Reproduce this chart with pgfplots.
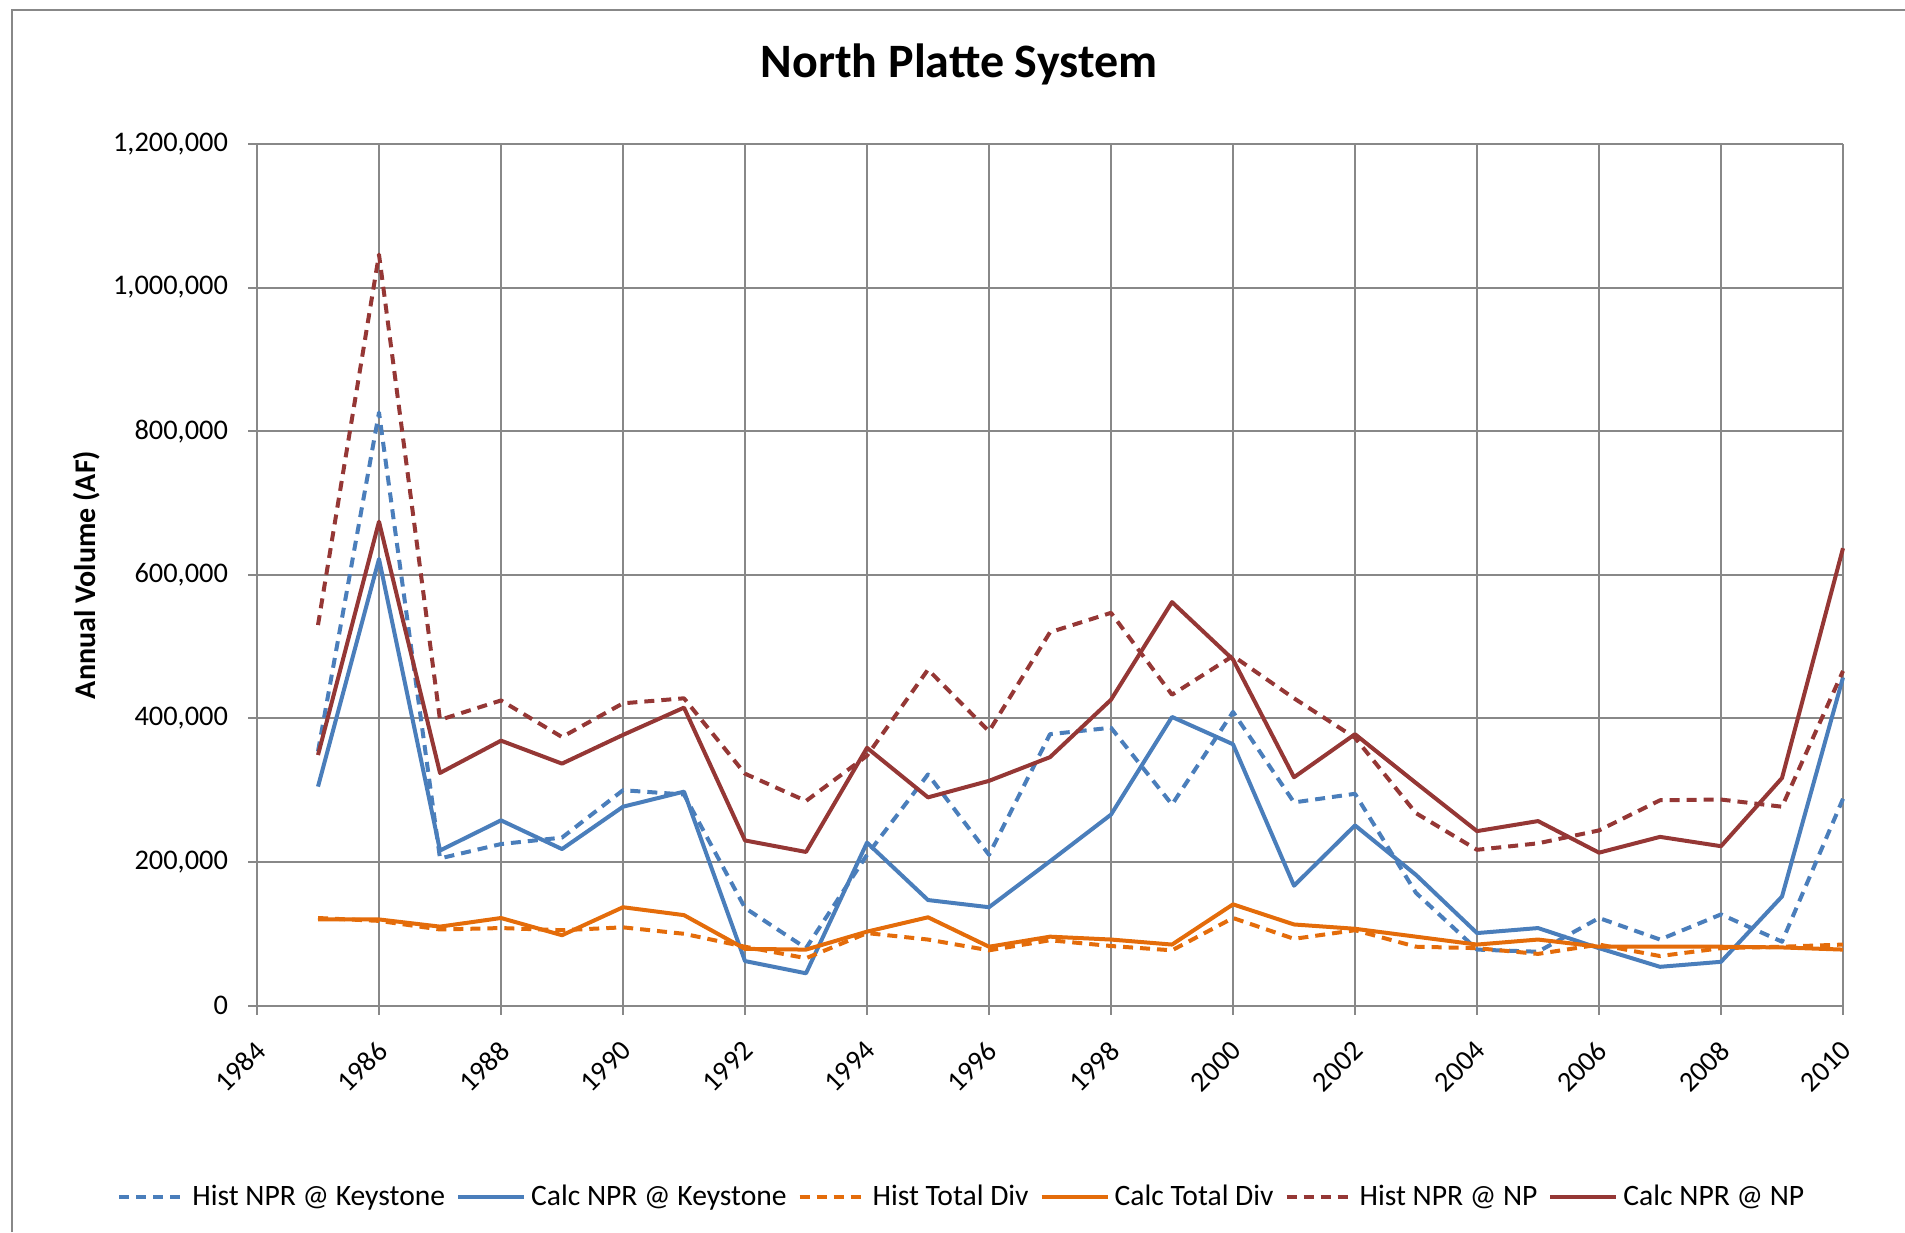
\documentclass[border=0pt]{standalone}
\usepackage{pgfplots}
\pgfplotsset{compat=1.18}
\usepackage{pgfplotstable}
\usepackage{fontspec}
\setmainfont{Carlito}
\definecolor{cblue}{HTML}{4A7EBB}
\definecolor{corange}{HTML}{E46C0A}
\definecolor{cred}{HTML}{953735}
\definecolor{cgrid}{HTML}{888888}
\pgfplotstableread{
year hk ck hd cd hn cn
1985 354000 305000 122000 120000 530000 349000
1986 826000 622000 118000 120000 1046000 674000
1987 205000 216000 106000 110000 398000 324000
1988 225000 258000 108000 122000 425000 369000
1989 234000 218000 105000 98000 374000 337000
1990 300000 277000 109000 137000 421000 377000
1991 294000 298000 100000 126000 428000 415000
1992 136000 62000 82000 79000 323000 230000
1993 80000 45000 66000 78000 285000 214000
1994 210000 227000 101000 103000 348000 359000
1995 322000 147000 92000 123000 468000 290000
1996 210000 137000 77000 82000 382000 313000
1997 378000 201000 91000 96000 520000 346000
1998 387000 266000 83000 92000 547000 426000
1999 280000 402000 77000 85000 433000 562000
2000 409000 364000 122000 141000 487000 482000
2001 283000 167000 93000 113000 428000 318000
2002 295000 251000 105000 107000 373000 378000
2003 157000 182000 82000 96000 268000 310000
2004 78000 101000 80000 85000 217000 243000
2005 75000 108000 72000 92000 226000 257000
2006 122000 80000 85000 82000 244000 213000
2007 92000 54000 69000 82000 286000 235000
2008 127000 61000 80000 82000 287000 222000
2009 89000 152000 82000 81000 277000 317000
2010 288000 457000 85000 78000 466000 637000
}\data
\begin{document}
\begin{tikzpicture}
\path[use as bounding box] (0,0) rectangle (952.5pt,616pt);
\draw[cgrid, line width=1pt] (6pt,0) -- (6pt,610.75pt) -- (952.5pt,610.75pt);
\node[font=\fontsize{24}{29}\selectfont\bfseries] at (479.5pt,583.7pt) {North Platte System};
\node[font=\fontsize{15}{18}\selectfont\bfseries, rotate=90] at (43.5pt,328.5pt) {Annual Volume (AF)};
\begin{axis}[
  at={(128.5pt,113.2pt)}, anchor=south west,
  width=793pt, height=430.8pt, scale only axis,
  xmin=1984, xmax=2010, ymin=0, ymax=1200000,
  xtick={1984,1986,...,2010},
  minor x tick num=1,
  ytick={0,200000,...,1200000},
  scaled y ticks=false,
  grid=major,
  major grid style={cgrid, line width=1pt},
  axis line style={cgrid, line width=1pt},
  tick style={cgrid, line width=1pt},
  tick align=outside,
  major tick length=4.5pt,
  minor tick length=3pt,
  xtick pos=bottom, ytick pos=left,
  axis x line*=bottom, axis y line*=left,
  /pgf/number format/assume math mode=true,
  tick label style={font=\fontsize{14.2}{17}\selectfont},
  yticklabel style={/pgf/number format/fixed, /pgf/number format/1000 sep={,}, xshift=-6.5pt},
  xticklabel style={/pgf/number format/1000 sep={}, rotate=45, anchor=north east, xshift=-6.5pt, yshift=-4pt},
  clip=false,
  legend columns=6,
  legend style={at={(0.445,-0.222)}, anchor=center, draw=none, fill=none,
    font=\fontsize{14.8}{18}\selectfont, column sep=0.5pt,
    nodes={inner sep=2pt},
    /tikz/every even column/.append style={column sep=3.5pt}},
  legend image code/.code={\draw[#1] (0pt,0pt) -- (33pt,0pt);},
  every axis plot/.append style={line width=2pt, line join=round},
]
\addplot[cblue, dash pattern=on 5pt off 3.5pt] table[x=year,y=hk] {\data};
\addlegendentry{Hist NPR @ Keystone}
\addplot[cblue] table[x=year,y=ck] {\data};
\addlegendentry{Calc NPR @ Keystone}
\addplot[corange, dash pattern=on 5pt off 3.5pt] table[x=year,y=hd] {\data};
\addlegendentry{Hist Total Div}
\addplot[corange] table[x=year,y=cd] {\data};
\addlegendentry{Calc Total Div}
\addplot[cred, dash pattern=on 5pt off 3.5pt] table[x=year,y=hn] {\data};
\addlegendentry{Hist NPR @ NP}
\addplot[cred] table[x=year,y=cn] {\data};
\addlegendentry{Calc NPR @ NP}
\end{axis}
\end{tikzpicture}
\end{document}
